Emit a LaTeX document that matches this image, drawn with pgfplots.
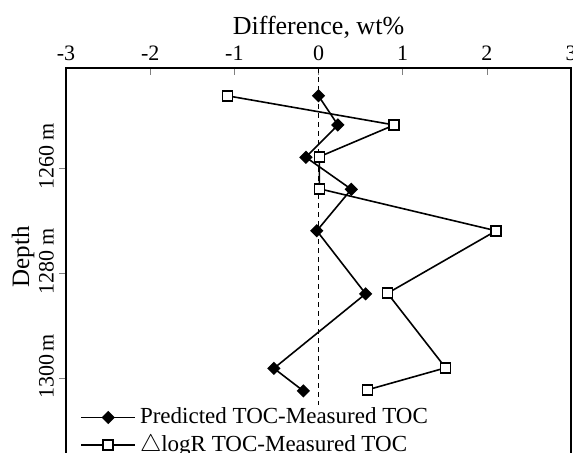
\documentclass[border=0pt]{standalone}
\usepackage{fontspec}
\setmainfont{Liberation Serif}
\usepackage{pgfplots}
\pgfplotsset{compat=1.18}
\begin{document}
\begin{tikzpicture}
\begin{axis}[name=ax, scale only axis, width=252.5pt, height=196pt,
  xmin=-3, xmax=3, ymin=1240.9, ymax=1315.56, y dir=reverse,
  axis line style={line width=1.1pt},
  xtick={-3,-2,-1,0,1,2,3}, xticklabels={-3,-2,-1,0,1,2,3},
  xtick pos=top, xticklabel pos=top,
  ytick={1260,1280,1300}, yticklabels={1260 m,1280 m,1300\,m},
  ytick pos=left,
  tick align=inside,
  major tick length=3.5pt,
  ytick style={xshift=-3.5pt},
  ticklabel style={font=\fontsize{11}{13}\selectfont},
  yticklabel style={rotate=90, anchor=south, xshift=6pt, yshift=2.5pt},
  xlabel={Difference, wt\%},
  every axis x label/.style={at={(rel axis cs:0.5,1)}, anchor=base, yshift=17pt, font=\fontsize{13}{15}\selectfont},
  ylabel={Depth},
  every axis y label/.style={at={(rel axis cs:0,0.5)}, xshift=-21.5pt, yshift=3.5pt, rotate=90, anchor=center, font=\fontsize{12.5}{14}\selectfont},
  legend style={draw=none, fill=none, at={(rel axis cs:0,0)}, anchor=south west, xshift=4pt, yshift=-1.5pt,
    font=\fontsize{11.5}{12.5}\selectfont, row sep=0pt},
  legend cell align=left,
  legend image code/.code={\draw[mark repeat=2,mark phase=2,#1] plot coordinates {(0pt,0pt) (13.5pt,0pt) (27pt,0pt)};},
]
\addplot[black, line width=0.8pt, mark=square*, mark size=1.95pt, mark options={rotate=45, fill=black, solid}]
  coordinates {(0,1246.2) (0.23,1251.75) (-0.15,1257.9) (0.39,1264) (-0.02,1271.9) (0.56,1283.9) (-0.53,1298.1) (-0.18,1302.4)};
\addlegendentry{Predicted TOC-Measured TOC}
\addplot[black, line width=0.8pt, mark=square*, mark size=2.5pt, mark options={fill=white, solid, line width=0.8pt}]
  coordinates {(-1.08,1246.2) (0.90,1251.75) (0.01,1257.8) (0.01,1263.9) (2.11,1271.9) (0.82,1283.8) (1.51,1298) (0.58,1302.2)};
\addlegendentry{$\triangle$logR TOC-Measured TOC}
\addplot[black, line width=0.7pt, dash pattern=on 2.5pt off 2pt, forget plot] coordinates {(0,1240.9) (0,1305.1)};
\end{axis}
\draw[black, line width=1.2pt] (ax.south west) -- (ax.north west) -- (ax.north east) -- (ax.south east);
\pgfresetboundingbox
\path ([xshift=-33pt, yshift=34pt]ax.north west) rectangle ([xshift=1pt, yshift=4pt]ax.south east);
\end{tikzpicture}
\end{document}
